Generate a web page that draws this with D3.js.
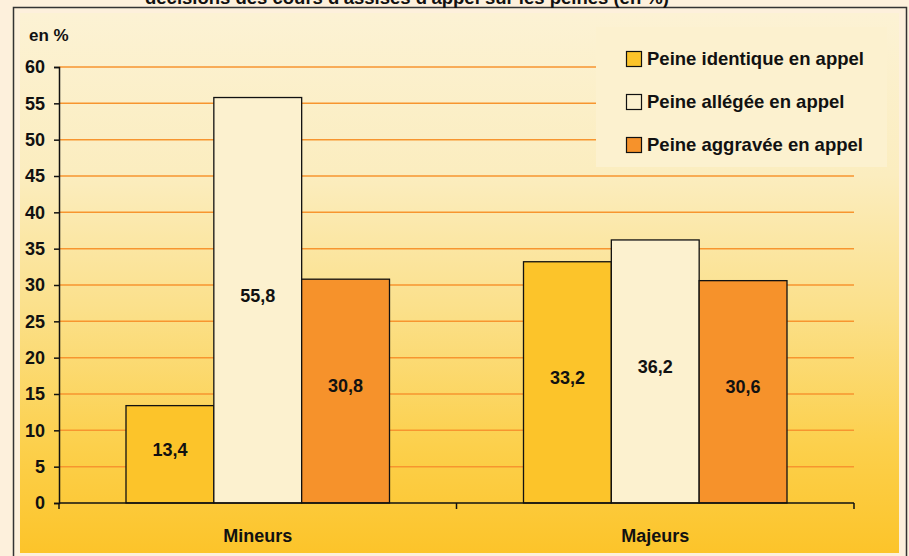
<!DOCTYPE html>
<html><head><meta charset="utf-8">
<script src="https://cdn.jsdelivr.net/npm/d3@7"></script>
<style>
html,body{margin:0;padding:0;background:#fdf0dc;}
svg{display:block;}
text{font-family:"Liberation Sans",Arial,sans-serif;font-weight:bold;fill:#111;}
</style></head><body>
<svg id="c" width="909" height="556"></svg>
<script>
const categories = ["Mineurs", "Majeurs"];
const seriesNames = ["Peine identique en appel", "Peine allégée en appel", "Peine aggravée en appel"];
const identique = [13.4, 33.2];
const allegee = [55.8, 36.2];
const aggravee = [30.8, 30.6];
const yTicks = [0, 5, 10, 15, 20, 25, 30, 35, 40, 45, 50, 55, 60];
const title = "décisions des cours d'assises d'appel sur les peines (en %)";
const yUnit = "en %";

const colors = ["#fcc42a", "#fcf1cf", "#f6922b"];
const series = [identique, allegee, aggravee];

const svg = d3.select("#c");
const defs = svg.append("defs");
const grad = defs.append("linearGradient").attr("id","bg").attr("x1",0).attr("y1",0).attr("x2",0).attr("y2",1);
[[0,"#fcf2d4"],[0.3,"#fbedbf"],[0.55,"#fbe08a"],[0.8,"#fcd04c"],[1,"#fcc42a"]].forEach(([o,c])=>grad.append("stop").attr("offset",o).attr("stop-color",c));

// frame
svg.append("rect").attr("x",20).attr("y",13).attr("width",879).attr("height",540).attr("fill","url(#bg)");
svg.append("path").attr("d","M13.5,560 V7.5 H906.5 V560").attr("fill","none").attr("stroke","#333").attr("stroke-width",1.5);

// title (partially cut off at top, as in the source)
svg.append("text").attr("x",407).attr("y",4).attr("text-anchor","middle").style("font-size","18.5px").text(title);

const margin = {left:59, right:854, top:67, bottom:503};
const x0 = d3.scaleBand().domain(categories).range([margin.left, margin.right]).paddingInner(0).paddingOuter(0);
const groupPad = 67;
const x1 = d3.scaleBand().domain(d3.range(series.length)).range([groupPad, x0.bandwidth()-groupPad]).padding(0);
const y = d3.scaleLinear().domain([0,60]).range([margin.bottom, margin.top]);

// gridlines
svg.append("g").selectAll("line").data(yTicks.filter(d=>d>0)).join("line")
  .attr("x1",margin.left).attr("x2",margin.right)
  .attr("y1",d=>y(d)).attr("y2",d=>y(d))
  .attr("stroke","#f7952f").attr("stroke-width",1.5);

// y axis
const yAxis = d3.axisLeft(y).tickValues(yTicks).tickSize(5).tickPadding(9).tickFormat(d3.format("d"));
const gy = svg.append("g").attr("transform",`translate(${margin.left},0)`).call(yAxis);
gy.select(".domain").attr("stroke","#111").attr("stroke-width",1.5);
gy.selectAll(".tick line").attr("stroke","#111").attr("stroke-width",1.5);
gy.selectAll(".tick text").style("font-size","18px").attr("fill","#111").style("font-family",null);

svg.append("text").attr("x",29).attr("y",41).style("font-size","17px").text(yUnit);

// bars
const groups = svg.append("g").selectAll("g").data(categories).join("g")
  .attr("transform",d=>`translate(${x0(d)},0)`);
groups.each(function(cat, ci){
  const g = d3.select(this);
  series.forEach((s, si)=>{
    g.append("rect").attr("x",x1(si)).attr("width",x1.bandwidth())
      .attr("y",y(s[ci])).attr("height",y(0)-y(s[ci]))
      .attr("fill",colors[si]).attr("stroke","#111").attr("stroke-width",1.3);
    g.append("text").attr("x",x1(si)+x1.bandwidth()/2).attr("y",(y(s[ci])+y(0))/2 - 5)
      .attr("text-anchor","middle").attr("dy","0.35em").style("font-size","18px")
      .text(d3.format(".1f")(s[ci]).replace(".",","));
  });
});

// x axis
const xAxis = d3.axisBottom(x0).tickSize(0).tickPadding(26);
const gx = svg.append("g").attr("transform",`translate(0,${margin.bottom})`).call(xAxis);
gx.select(".domain").remove();
gx.selectAll(".tick text").style("font-size","18px").attr("fill","#111").style("font-family",null);
svg.append("line").attr("x1",margin.left).attr("x2",margin.right).attr("y1",margin.bottom).attr("y2",margin.bottom).attr("stroke","#111").attr("stroke-width",1.5);
const xb = [margin.left, ...categories.slice(1).map(c=>x0(c)), margin.right];
svg.append("g").selectAll("line").data(xb).join("line")
  .attr("x1",d=>d).attr("x2",d=>d).attr("y1",margin.bottom).attr("y2",margin.bottom+6)
  .attr("stroke","#111").attr("stroke-width",1.5);

// legend
const lg = svg.append("g");
lg.append("rect").attr("x",596).attr("y",27).attr("width",291).attr("height",140).attr("fill","#fcf1cf");
seriesNames.forEach((n,i)=>{
  const cy = 59 + i*43;
  lg.append("rect").attr("x",626.5).attr("y",cy-7.5).attr("width",15).attr("height",15).attr("fill",colors[i]).attr("stroke","#111").attr("stroke-width",1.2);
  lg.append("text").attr("x",647).attr("y",cy).attr("dy","0.35em").style("font-size","18.5px").text(n);
});
</script>
</body></html>
